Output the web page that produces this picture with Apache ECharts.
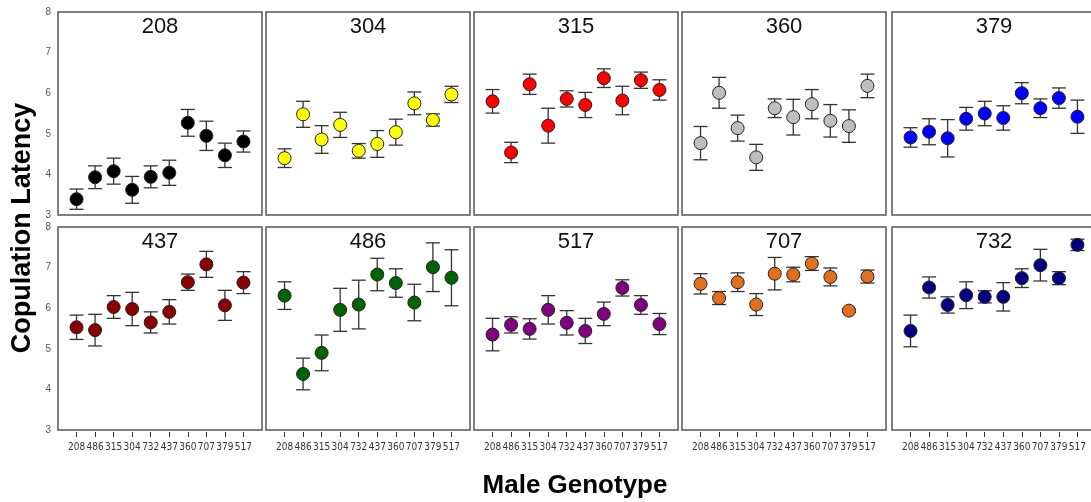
<!DOCTYPE html>
<html>
<head>
<meta charset="utf-8">
<script src="https://cdn.jsdelivr.net/npm/echarts@6/dist/echarts.min.js"></script>
<style>
html,body{margin:0;padding:0;background:#fff;overflow:hidden;}
#chart{width:1110px;height:502px;}
</style>
</head>
<body>
<div id="chart"></div>
<script>
// ---- data ----
const categories = ['208','486','315','304','732','437','360','707','379','517'];
const panels = ['208','304','315','360','379','437','486','517','707','732'];
const colors = ['#000000','#ffff00','#ff0000','#bebebe','#0000ff','#8b0000','#006400','#800080','#e0701e','#000080'];
const yTicks = [3,4,5,6,7,8];

const mean208 = [3.39,3.93,4.08,3.62,3.94,4.04,5.27,4.95,4.47,4.81];
const se208   = [0.25,0.28,0.32,0.33,0.27,0.31,0.33,0.36,0.30,0.26];
const mean304 = [4.40,5.48,4.86,5.22,4.58,4.75,5.04,5.75,5.34,5.97];
const se304   = [0.23,0.32,0.34,0.31,0.18,0.33,0.32,0.28,0.15,0.20];
const mean315 = [5.80,4.54,6.22,5.20,5.86,5.71,6.37,5.82,6.32,6.08];
const se315   = [0.29,0.25,0.25,0.43,0.20,0.31,0.23,0.35,0.20,0.25];
const mean360 = [4.77,6.01,5.14,4.42,5.63,5.41,5.73,5.32,5.19,6.18];
const se360   = [0.41,0.38,0.32,0.32,0.23,0.44,0.36,0.40,0.40,0.29];
const mean379 = [4.91,5.05,4.89,5.37,5.50,5.39,6.00,5.63,5.88,5.42];
const se379   = [0.24,0.32,0.46,0.28,0.30,0.30,0.26,0.23,0.25,0.41];
const mean437 = [5.53,5.46,6.03,5.98,5.65,5.91,6.64,7.08,6.07,6.63];
const se437   = [0.30,0.39,0.28,0.41,0.26,0.30,0.20,0.32,0.37,0.27];
const mean486 = [6.31,4.38,4.90,5.96,6.09,6.83,6.62,6.14,7.01,6.75];
const se486   = [0.34,0.39,0.44,0.53,0.60,0.40,0.35,0.45,0.60,0.69];
const mean517 = [5.35,5.59,5.49,5.96,5.64,5.44,5.86,6.50,6.08,5.61];
const se517   = [0.40,0.20,0.25,0.35,0.30,0.31,0.29,0.20,0.23,0.26];
const mean707 = [6.60,6.25,6.64,6.09,6.85,6.83,7.10,6.77,5.94,6.78];
const se707   = [0.25,0.16,0.23,0.27,0.40,0.18,0.17,0.22,0.04,0.16];
const mean732 = [5.44,6.51,6.08,6.32,6.28,6.28,6.74,7.06,6.74,7.56];
const se732   = [0.39,0.26,0.20,0.33,0.15,0.35,0.23,0.39,0.16,0.14];

const means = [mean208,mean304,mean315,mean360,mean379,mean437,mean486,mean517,mean707,mean732];
const ses   = [se208,se304,se315,se360,se379,se437,se486,se517,se707,se732];

// ---- layout ----
const lefts = [58, 266, 474, 682, 892];
const tops = [12, 227];
const W = 204, H = 203;
const FONT = "'Liberation Sans', Arial, sans-serif";
const NARROW = "'Liberation Sans Narrow', 'DejaVu Sans Condensed', 'Liberation Sans', sans-serif";
const axisCats = [''].concat(categories).concat([' ']);

const grid = [], xAxis = [], yAxis = [], series = [], title = [];

function renderErr(params, api) {
  const x = api.value(0), lo = api.value(1), hi = api.value(2);
  const p1 = api.coord([x, hi]), p2 = api.coord([x, lo]);
  const hw = 7;
  const st = {stroke: '#333', lineWidth: 1.3};
  return {type: 'group', children: [
    {type: 'line', shape: {x1: p1[0], y1: p1[1], x2: p2[0], y2: p2[1]}, style: st},
    {type: 'line', shape: {x1: p1[0]-hw, y1: p1[1], x2: p1[0]+hw, y2: p1[1]}, style: st},
    {type: 'line', shape: {x1: p2[0]-hw, y1: p2[1], x2: p2[0]+hw, y2: p2[1]}, style: st}
  ]};
}

panels.forEach((name, k) => {
  const row = Math.floor(k / 5), col = k % 5;
  grid.push({left: lefts[col], top: tops[row], width: W, height: H,
    show: true, borderColor: '#555', borderWidth: 1.5, backgroundColor: '#fff', containLabel: false});
  const bottomRow = row === 1;
  xAxis.push({type: 'category', gridIndex: k, data: axisCats, boundaryGap: false,
    offset: 2,
    axisLine: {show: false},
    axisTick: {show: bottomRow, length: 5, lineStyle: {color: '#333', width: 1},
      interval: (i) => i > 0 && i < axisCats.length - 1},
    axisLabel: {show: bottomRow, interval: 0, fontSize: 10, color: '#333', margin: 10, fontFamily: NARROW},
    splitLine: {show: false}});
  yAxis.push({type: 'value', gridIndex: k, min: yTicks[0], max: yTicks[yTicks.length-1], interval: 1,
    axisLine: {show: false}, axisTick: {show: false}, splitLine: {show: false},
    axisLabel: {show: col === 0, fontSize: 10, color: '#555', margin: 7, fontFamily: FONT}});
  title.push({text: name, left: lefts[col] + W / 2, top: tops[row] + 4, padding: 0, textAlign: 'center',
    textStyle: {fontSize: 22, fontWeight: 'normal', color: '#111', fontFamily: FONT}});
  const m = means[k], s = ses[k];
  series.push({type: 'custom', xAxisIndex: k, yAxisIndex: k, renderItem: renderErr, z: 2,
    encode: {x: 0, y: [1, 2]}, silent: true,
    data: m.map((v, i) => [i + 1, +(v - s[i]).toFixed(3), +(v + s[i]).toFixed(3)])});
  series.push({type: 'scatter', xAxisIndex: k, yAxisIndex: k, z: 3, symbolSize: 13, silent: true,
    itemStyle: {color: colors[k], borderColor: '#222', borderWidth: 1, opacity: 1},
    data: m.map((v, i) => [i + 1, v])});
});

const chart = echarts.init(document.getElementById('chart'), null, {renderer: 'canvas'});
chart.setOption({
  animation: false,
  backgroundColor: '#fff',
  title, grid, xAxis, yAxis, series,
  graphic: [
    {type: 'text', x: 23, y: 228, rotation: Math.PI / 2,
      style: {text: 'Copulation Latency', font: "bold 27px 'Liberation Sans', Arial, sans-serif",
        fill: '#000', textAlign: 'center', textVerticalAlign: 'middle'}},
    {type: 'text', x: 575, y: 486,
      style: {text: 'Male Genotype', font: "bold 26px 'Liberation Sans', Arial, sans-serif",
        fill: '#000', textAlign: 'center', textVerticalAlign: 'middle'}}
  ]
});
</script>
</body>
</html>
